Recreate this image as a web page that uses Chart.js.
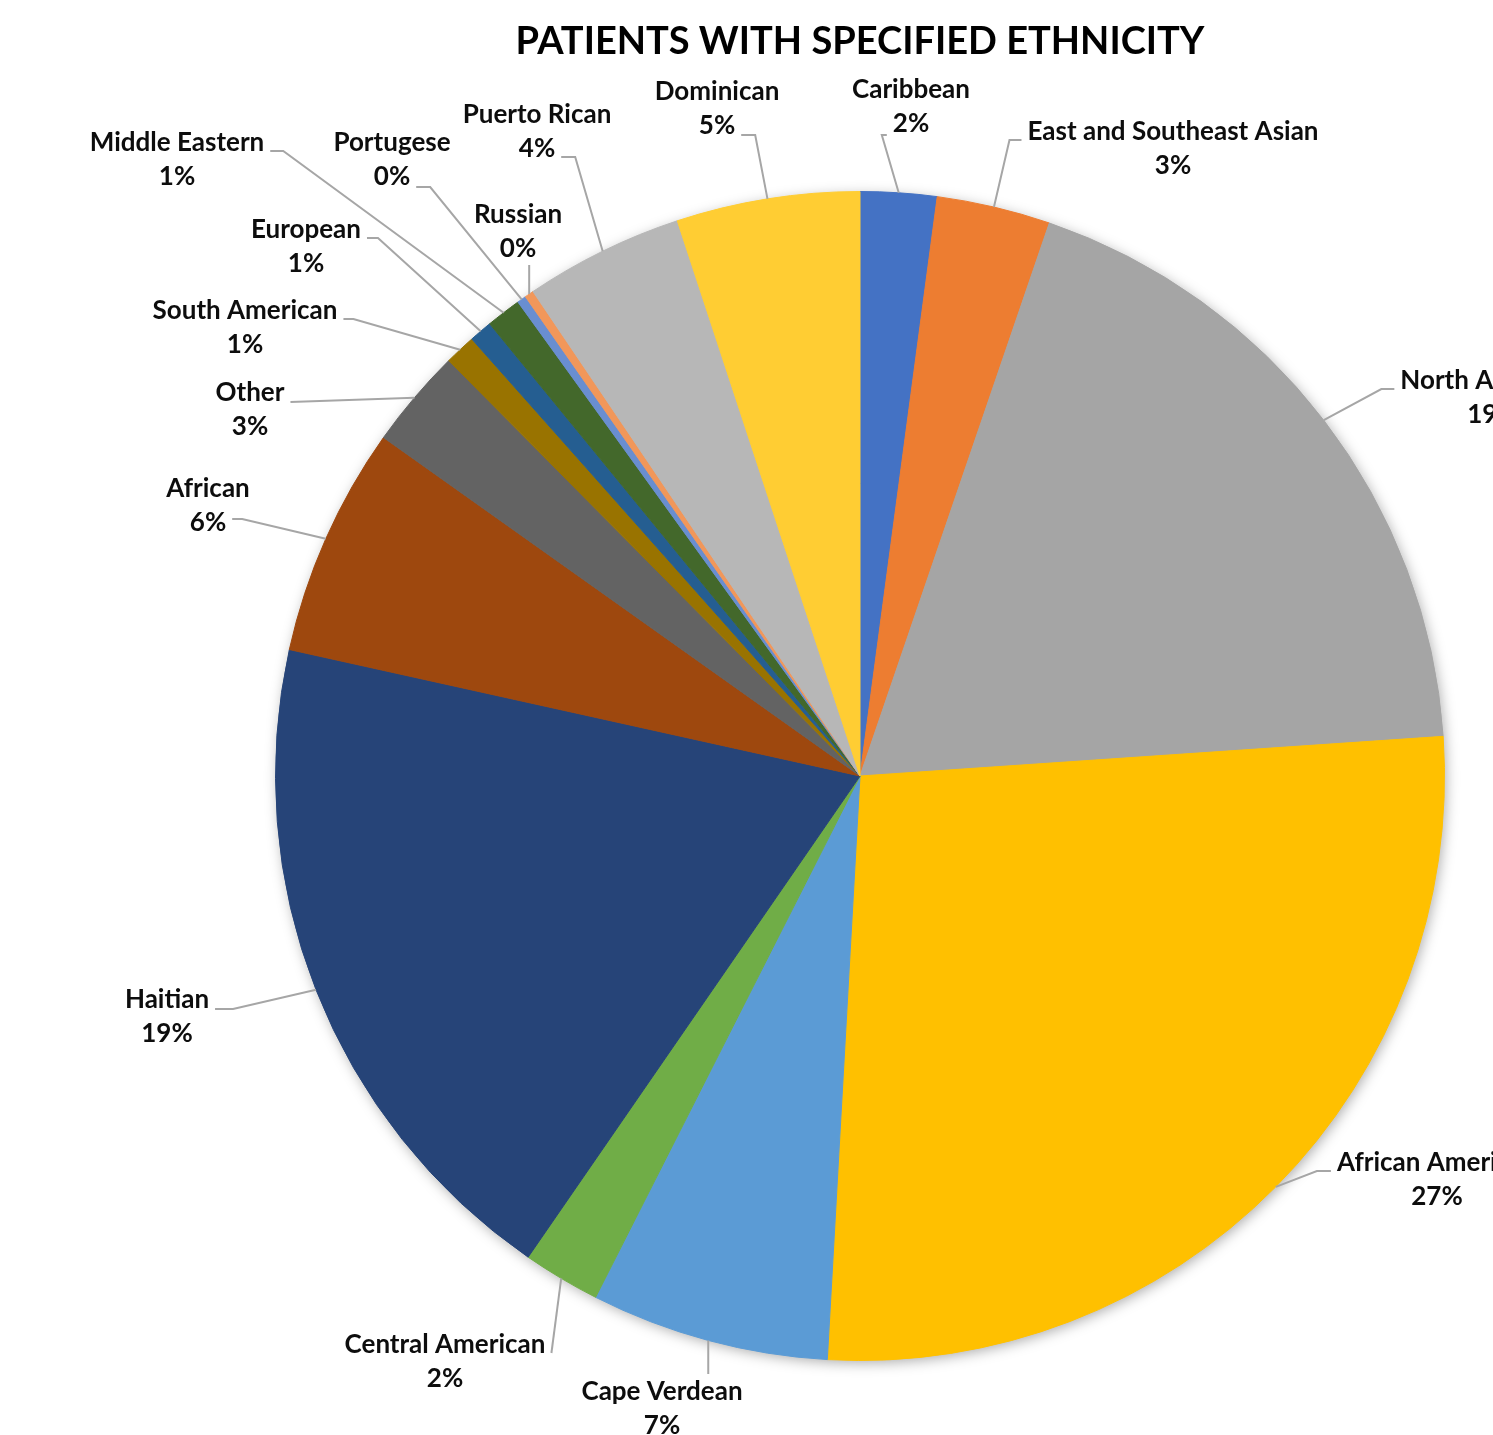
<!DOCTYPE html>
<html>
<head>
<meta charset="utf-8">
<title>Patients with specified ethnicity</title>
<script src="https://cdn.jsdelivr.net/npm/chart.js@4.4.1/dist/chart.umd.min.js"></script>
<style>
  html, body { margin: 0; padding: 0; background: #fff; }
  #wrap { width: 1493px; height: 1435px; position: relative; overflow: hidden; }
</style>
</head>
<body>
<div id="wrap"><canvas id="chartEtnia"></canvas></div>
<script>
const titulo = 'PATIENTS WITH SPECIFIED ETHNICITY';

const categorias = [
  'Caribbean', 'East and Southeast Asian', 'North American', 'African American',
  'Cape Verdean', 'Central American', 'Haitian', 'African', 'Other',
  'South American', 'European', 'Middle Eastern', 'Portugese', 'Russian',
  'Puerto Rican', 'Dominican'
];

// share of patients
const valores = [
  2.11, 3.14, 18.67, 26.97,
  6.58, 2.14, 18.86, 6.36, 2.75,
  0.86, 0.64, 0.97, 0.25, 0.25,
  4.39, 5.06
];

const colores = [
  '#4472C4', '#ED7D31', '#A5A5A5', '#FFC000',
  '#5B9BD5', '#70AD47', '#264478', '#9E480E', '#636363',
  '#997300', '#255E91', '#43682B', '#698ED0', '#F1975A',
  '#B7B7B7', '#FFCD33'
];

// where each data label sits: [centre x, first line y, side the leader attaches, line, tick, dy]
const posEtiquetas = [
  [911, 90, 'left', 1, 5, 3],
  [1173, 132, 'left', 0, 12, 0],
  [1493, 381, 'left', 0, 13, 0],
  [1437, 1163, 'left', 0, 14, 0],
  [662, 1392, 'top', 0, 0, 0],
  [445, 1345, 'right', 0, 0, 0],
  [167, 1000, 'right', 0, 18, 1],
  [208, 489, 'right', 1, 10, -12],
  [250, 393, 'right', 0, 0, 1],
  [245, 311, 'right', 0, 10, 0],
  [306, 230, 'right', 0, 11, 0],
  [177, 143, 'right', 0, 13, 0],
  [392, 143, 'right', 1, 14, 2],
  [518, 215, 'bottom', 1, 0, 0],
  [537, 115, 'right', 1, 14, 0],
  [717, 92, 'right', 1, 14, 1]
];

const FAMILIA = 'Lato, "Open Sans", sans-serif';
const FUENTE_ETIQ = 'bold 26px ' + FAMILIA;
const LINEA = 34;

function tamanoTitulo(texto, ancho) {
  const c = document.createElement('canvas').getContext('2d');
  c.font = 'bold 100px ' + FAMILIA;
  return Math.round(100 * ancho / c.measureText(texto).width);
}

const tamTit = tamanoTitulo(titulo, 697);
const altoLinea = tamTit * 1.2;
const padTop = 42 - altoLinea / 2;
const padBottom = 191 - padTop - altoLinea;

const etiquetasPlugin = {
  id: 'etiquetas',
  beforeDatasetsDraw(chart) {
    const arc = chart.getDatasetMeta(0).data[0];
    if (!arc) return;
    const { x, y, outerRadius } = arc.getProps(['x', 'y', 'outerRadius'], true);
    const ctx = chart.ctx;
    ctx.save();
    ctx.shadowColor = 'rgba(0,0,0,0.35)';
    ctx.shadowBlur = 14;
    ctx.shadowOffsetX = 2;
    ctx.shadowOffsetY = 3;
    ctx.fillStyle = '#fff';
    ctx.beginPath();
    ctx.arc(x, y, outerRadius - 1, 0, Math.PI * 2);
    ctx.fill();
    ctx.restore();
  },
  afterDatasetsDraw(chart) {
    const ctx = chart.ctx;
    const meta = chart.getDatasetMeta(0);
    const total = valores.reduce((a, b) => a + b, 0);
    ctx.save();
    ctx.font = FUENTE_ETIQ;
    meta.data.forEach((arc, i) => {
      const p = arc.getProps(['x', 'y', 'startAngle', 'endAngle', 'outerRadius'], true);
      const mid = (p.startAngle + p.endAngle) / 2;
      const sx = p.x + Math.cos(mid) * p.outerRadius;
      const sy = p.y + Math.sin(mid) * p.outerRadius;
      const [cx, cy, lado, linea, tick, dy] = posEtiquetas[i];
      const lineas = [categorias[i], Math.round(valores[i] / total * 100) + '%'];
      const ly = cy + linea * LINEA;
      const w = ctx.measureText(lineas[linea]).width;

      let pts;
      if (lado === 'right') {
        const tx = cx + w / 2 + 6, ty = ly + 8 + dy;
        pts = [[tx, ty], [tx + tick, ty], [sx, sy]];
      } else if (lado === 'left') {
        const tx = cx - w / 2 - 6, ty = ly + 8 + dy;
        pts = [[tx, ty], [tx - tick, ty], [sx, sy]];
      } else if (lado === 'bottom') {
        pts = [[sx, cy + LINEA + 16], [sx, sy]];
      } else {
        pts = [[sx, cy - 18], [sx, sy]];
      }
      ctx.strokeStyle = '#a6a6a6';
      ctx.lineWidth = 2;
      ctx.beginPath();
      ctx.moveTo(pts[0][0], pts[0][1]);
      pts.slice(1).forEach(q => ctx.lineTo(q[0], q[1]));
      ctx.stroke();

      ctx.fillStyle = '#0d0d0d';
      ctx.textAlign = 'center';
      ctx.textBaseline = 'middle';
      lineas.forEach((t, k) => ctx.fillText(t, cx, cy + k * LINEA));
    });
    ctx.restore();
  }
};

new Chart(document.getElementById('chartEtnia'), {
  type: 'pie',
  data: {
    labels: categorias,
    datasets: [{
      data: valores,
      backgroundColor: colores,
      borderColor: colores,
      borderWidth: 1
    }]
  },
  options: {
    responsive: true,
    maintainAspectRatio: false,
    animation: false,
    layout: { padding: { left: 275, right: 48, top: 0, bottom: 74 } },
    plugins: {
      legend: { display: false },
      tooltip: { enabled: false },
      title: {
        display: true,
        text: titulo,
        color: '#000',
        font: { family: FAMILIA, size: tamTit, weight: 'bold', lineHeight: 1.2 },
        padding: { top: padTop, bottom: padBottom }
      }
    }
  },
  plugins: [etiquetasPlugin]
});
</script>
</body>
</html>
